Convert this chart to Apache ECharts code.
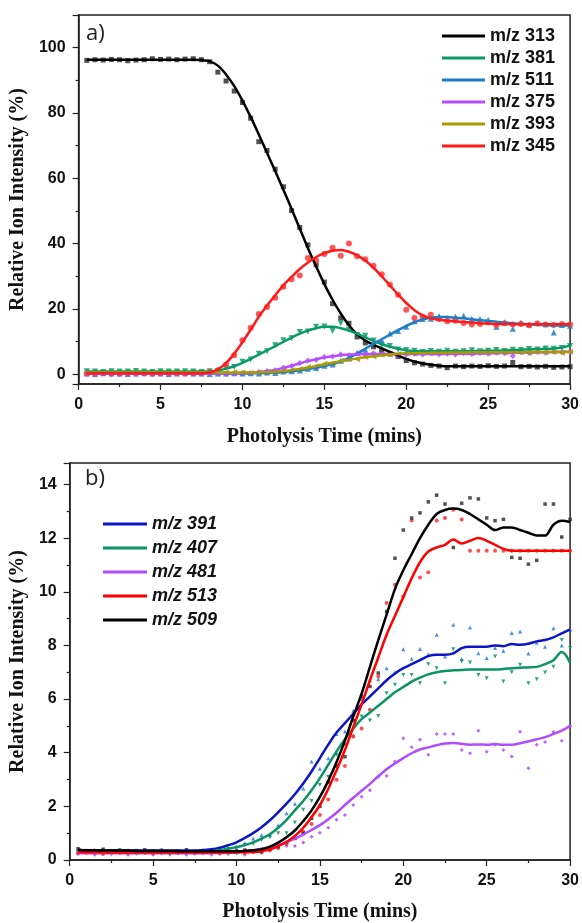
<!DOCTYPE html>
<html>
<head>
<meta charset="utf-8">
<script src="https://cdn.jsdelivr.net/npm/echarts@6/dist/echarts.min.js"></script>
<style>
html,body{margin:0;padding:0;background:#fff;}
#chart{width:582px;height:923px;}
</style>
</head>
<body>
<div id="chart"></div>
<script>
// Time axis (mins)
const T = [0.5,1,1.5,2,2.5,3,3.5,4,4.5,5,5.5,6,6.5,7,7.5,8,8.5,9,9.5,10,10.5,11,11.5,12,12.5,13,13.5,14,14.5,15,15.5,16,16.5,17,17.5,18,18.5,19,19.5,20,20.5,21,21.5,22,22.5,23,23.5,24,24.5,25,25.5,26,26.5,27,27.5,28,28.5,29,29.5,30];

// ---------- Panel a: fitted lines ----------
const a313 = [96.3,96.3,96.3,96.3,96.3,96.3,96.3,96.3,96.3,96.3,96.3,96.3,96.3,96.3,
  96.2,95.8,94.5,91.8,88.2,83.8,78.8,73.4,67.8,62.2,56.5,50.6,44.6,38.6,33,27.6,22.8,18.6,15,12.2,10.3,9.0,7.9,6.8,5.7,4.7,3.9,3.3,2.9,2.6,2.4,
  2.4,2.4,2.4,2.4,2.4,2.4,2.4,2.4,2.4,2.4,2.4,2.4,2.4,2.4,2.4];
const a345 = [0.3,0.3,0.3,0.3,0.3,0.3,0.3,0.3,0.3,0.3,0.3,0.3,0.3,0.3,0.3,
  0.5,1.5,3.4,6.3,9.8,13.6,17.6,21,24.2,27.2,29.8,32.2,34.2,35.9,37.1,37.8,38,37.5,36.4,34.8,32.6,30,27.2,24.4,21.8,19.6,18,17.1,16.7,16.4,
  16.2,16,15.8,15.6,15.5,15.4,15.4,15.3,15.3,15.3,15.3,15.3,15.3,15.3,15.3];
const a381 = [0.8,0.8,0.8,0.8,0.8,0.8,0.8,0.8,0.8,0.8,0.8,0.8,0.8,0.8,0.8,0.8,
  1.1,1.7,2.5,3.5,4.7,6,7.3,8.6,9.9,11.2,12.4,13.4,14.1,14.5,14.5,14.1,13.4,12.4,11.3,10.2,9.2,8.4,7.8,7.3,
  7.1,7.0,7.0,7.0,7.0,7.0,7.0,7.1,7.1,7.2,7.2,7.3,7.4,7.5,7.6,7.7,7.8,7.9,8.2,8.8];
const a511 = [0.2,0.2,0.2,0.2,0.2,0.2,0.2,0.2,0.2,0.2,0.2,0.2,0.2,0.2,0.2,0.2,0.2,0.2,0.2,0.2,
  0.25,0.3,0.4,0.5,0.7,0.9,1.2,1.6,2.0,2.5,3.1,3.9,5.0,6.3,7.8,9.3,10.7,12.1,13.5,14.8,
  15.9,16.8,17.3,17.5,17.5,17.3,17.1,16.8,16.6,16.3,16.1,15.8,15.6,15.4,15.3,15.1,15.0,14.9,14.9,14.9];
const a375 = [0.2,0.2,0.2,0.2,0.2,0.2,0.2,0.2,0.2,0.2,0.2,0.2,0.2,0.2,0.2,0.2,0.2,0.2,0.2,
  0.3,0.4,0.6,0.9,1.3,1.9,2.6,3.3,4.0,4.6,5.1,5.5,5.8,6.0,6.1,6.2,6.2,6.2,6.2,6.2,
  6.2,6.2,6.2,6.2,6.2,6.25,6.25,6.3,6.3,6.35,6.4,6.45,6.5,6.55,6.6,6.65,6.7,6.75,6.8,6.85,6.9];
const a393 = [0.5,0.5,0.5,0.5,0.5,0.5,0.5,0.5,0.5,0.5,0.5,0.5,0.5,0.5,0.5,0.5,0.5,0.5,0.5,0.5,0.5,
  0.55,0.6,0.75,0.95,1.25,1.6,2.0,2.5,3.0,3.5,4.0,4.45,4.85,5.2,5.5,5.8,6.05,6.25,6.4,6.45,
  6.5,6.55,6.6,6.6,6.65,6.65,6.7,6.7,6.7,6.7,6.7,6.75,6.75,6.75,6.8,6.8,6.8,6.8,6.8];

// ---------- Panel a: measured points ----------
const p313 = [96.1,96.3,96.2,96.4,96.3,96.0,96.2,96.3,96.6,96.4,96.5,96.3,96.5,96.6,
  96.3,95.7,92.5,89.8,86.7,83.2,78.4,71.2,68.5,62.8,57.4,50.1,44.9,39.6,33.5,28.2,21.6,17.2,15.6,11.4,9.6,8.4,7.3,6.2,5.4,4.2,3.5,3.1,2.7,2.5,2.0,
  2.5,2.3,2.5,2.4,2.6,2.4,2.5,3.6,2.3,2.4,2.2,2.4,2.1,2.2,2.3];
const p345 = [0.3,0.2,0.4,0.3,0.2,0.3,0.4,0.3,0.2,0.3,0.3,0.4,0.2,0.3,0.4,
  0.6,1.2,3.0,5.8,10.4,14.2,18.4,20.6,23.4,26.8,29.1,30.2,35.6,34.8,36.8,38.7,36.3,40,36.1,35.2,33.2,30.6,27.5,24.3,19.7,17.2,17.6,18.2,16.9,16.2,
  16.4,15.7,15.2,15.4,15.8,15.1,15.6,15.2,15.4,15.0,15.5,15.2,15.1,15.4,15.2];
const p381 = [0.9,0.8,0.7,0.9,0.8,0.8,1.0,0.8,0.7,0.9,0.8,0.8,0.9,0.8,0.7,0.9,
  1.0,1.9,2.2,3.8,4.5,6.3,7.0,8.9,10.4,11.0,12.9,13.1,14.5,14.6,13.2,15.6,13.6,12.0,11.8,10.3,8.8,8.6,7.6,7.4,
  7.2,6.8,7.1,6.9,7.2,6.9,7.0,7.3,7.0,7.2,7.4,7.1,7.5,7.4,7.7,7.6,7.9,7.8,8.0,8.6];
const p511 = [0.2,0.1,0.3,0.2,0.2,0.1,0.2,0.3,0.2,0.2,0.1,0.2,0.3,0.2,0.2,0.1,0.2,0.2,0.3,0.2,
  0.3,0.2,0.5,0.4,0.8,0.9,1.1,1.7,1.9,2.6,3.0,4.1,4.8,6.5,7.5,9.6,10.4,12.5,13.2,14.5,
  16.2,16.9,17.0,17.8,17.2,17.6,17.9,17.0,16.9,16.7,14.5,15.9,13.9,15.8,15.2,15.7,15.3,12.8,15.1,14.8];
const p375 = [0.1,0.2,0.3,0.1,0.2,0.2,0.1,0.3,0.2,0.2,0.1,0.2,0.2,0.3,0.1,0.2,0.2,0.1,0.3,
  0.4,0.3,0.7,1.0,1.2,2.0,2.5,3.4,4.2,4.4,5.3,5.4,6.0,5.8,6.3,6.0,6.4,6.1,6.3,5.6,
  6.0,6.3,6.0,6.4,6.1,6.3,6.0,6.4,6.2,6.5,6.3,6.6,6.4,5.6,6.7,6.5,6.8,6.6,6.9,6.7,6.9];
const p393 = [0.4,0.5,0.6,0.5,0.4,0.5,0.6,0.5,0.4,0.5,0.5,0.6,0.4,0.5,0.5,0.6,0.4,0.5,0.6,0.5,0.4,
  0.5,0.7,0.6,1.0,1.2,1.5,2.2,2.4,3.2,3.3,4.1,4.8,4.6,5.3,5.4,6.0,6.2,6.1,6.5,6.3,
  6.6,6.4,6.7,6.5,6.8,6.6,6.5,6.9,6.6,6.8,6.6,6.9,6.7,6.5,6.9,6.7,6.8,6.6,6.9];

// ---------- Panel b: fitted lines ----------
const b391 = [0.38,0.36,0.36,0.35,0.35,0.35,0.35,0.35,0.35,0.35,0.35,0.35,0.35,0.35,0.35,
  0.37,0.4,0.46,0.55,0.66,0.82,1.0,1.22,1.48,1.78,2.1,2.45,2.85,3.3,3.8,4.3,4.75,5.1,5.45,5.8,
  6.1,6.4,6.7,6.95,7.15,7.3,7.45,7.6,7.65,7.65,7.7,7.9,7.95,7.95,7.95,8.0,7.97,8.05,8.02,8.06,8.15,8.2,8.3,8.45,8.6];
const b407 = [0.32,0.31,0.3,0.3,0.3,0.3,0.3,0.3,0.3,0.3,0.3,0.3,0.3,0.3,0.3,0.3,
  0.32,0.36,0.42,0.48,0.56,0.66,0.8,0.96,1.2,1.5,1.85,2.2,2.6,3.05,3.55,4.05,4.5,4.9,5.25,5.5,
  5.75,6.0,6.25,6.45,6.65,6.8,6.92,7.0,7.05,7.07,7.08,7.1,7.1,7.1,7.1,7.12,7.15,7.17,7.18,7.2,7.3,7.45,7.75,7.35];
const b481 = [0.26,0.25,0.25,0.25,0.25,0.25,0.25,0.25,0.25,0.25,0.25,0.25,0.25,0.25,0.25,0.25,0.26,0.26,0.27,0.28,
  0.32,0.36,0.42,0.48,0.56,0.66,0.8,0.95,1.12,1.3,1.52,1.76,2.05,2.32,2.58,2.84,3.12,3.38,3.6,3.8,
  3.98,4.12,4.2,4.28,4.34,4.36,4.33,4.3,4.31,4.3,4.32,4.3,4.3,4.35,4.42,4.5,4.58,4.7,4.82,5.0];
const b513 = [0.3,0.29,0.29,0.28,0.28,0.28,0.28,0.28,0.28,0.28,0.28,0.28,0.28,0.28,0.28,0.28,0.28,0.28,0.28,0.28,
  0.29,0.3,0.33,0.4,0.52,0.68,0.9,1.2,1.6,2.05,2.65,3.35,4.1,4.95,5.8,6.7,7.55,8.4,9.1,9.8,
  10.5,11.1,11.5,11.65,11.75,11.95,11.8,11.9,12.0,11.9,11.75,11.6,11.53,11.53,11.53,11.53,11.53,11.53,11.53,11.53];
const b509 = [0.38,0.36,0.36,0.35,0.35,0.35,0.35,0.34,0.34,0.34,0.34,0.34,0.33,0.33,0.33,0.33,0.33,0.33,0.33,
  0.33,0.34,0.36,0.4,0.5,0.65,0.85,1.1,1.45,1.85,2.35,2.95,3.65,4.45,5.35,6.2,7.2,8.2,9.15,10.1,
  10.8,11.4,12.0,12.5,12.9,13.05,13.1,13.05,12.9,12.7,12.5,12.3,12.4,12.4,12.3,12.2,12.1,12.1,12.5,12.65,12.6];

// ---------- Panel b: measured points ----------
const q391 = [0.35,0.3,0.38,0.32,0.35,0.3,0.36,0.33,0.3,0.35,0.38,0.32,0.3,0.36,0.34,0.3,0.38,0.4,0.45,0.5,0.62,
  0.8,0.93,0.93,1.3,1.74,2.1,2.67,3.67,3.4,3.79,4.7,4.79,5.56,6.0,6.7,6.74,7.15,7.0,7.86,7.5,
  7.87,7.67,8.4,7.59,8.77,7.49,8.67,7.71,7.53,7.9,7.8,8.46,8.52,7.7,8.1,7.95,8.64,8.0,8.6];
const q407 = [0.3,0.28,0.32,0.3,0.27,0.3,0.33,0.28,0.3,0.26,0.3,0.2,0.3,0.28,0.3,0.32,0.3,0.35,0.4,0.45,0.55,0.6,
  0.75,0.85,1.0,1.0,1.4,1.87,2.2,2.8,3.1,3.92,4.3,4.6,5.35,5.2,5.37,6.22,6.53,6.9,6.9,6.59,
  7.3,7.15,6.59,7.86,7.4,7.36,6.9,6.78,7.59,6.65,7.0,7.28,6.59,6.74,6.99,7.2,8.2,7.9];
const q481 = [0.22,0.25,0.2,0.24,0.22,0.26,0.2,0.23,0.25,0.2,0.24,0.22,0.25,0.2,0.23,0.26,0.2,0.24,0.22,0.25,0.2,0.3,0.35,0.4,
  0.45,0.52,0.52,0.65,0.87,1.02,1.2,1.5,1.68,2.05,2.36,2.6,3.1,3.13,3.67,4.54,4.2,4.48,3.92,4.7,
  4.7,4.7,4.1,3.98,4.82,4.04,4.3,4.1,3.86,4.78,3.42,4.3,4.4,4.77,4.45,5.0];
const q513 = [0.25,0.3,0.28,0.22,0.3,0.27,0.25,0.3,0.28,0.24,0.3,0.26,0.28,0.3,0.25,0.27,0.3,0.24,0.28,0.3,0.26,0.3,0.28,0.35,
  0.45,0.6,0.8,1.05,1.34,1.68,2.26,2.99,3.5,4.6,4.9,5.6,6.84,9.58,10.26,9.83,12.66,10.53,10.73,12.66,
  12.75,13.06,12.69,11.53,11.53,11.53,11.53,11.53,11.53,11.53,11.53,11.53,11.53,11.53,11.53,11.53];
const q509 = [0.42,0.35,0.3,0.4,0.33,0.37,0.3,0.35,0.38,0.32,0.36,0.3,0.34,0.38,0.31,0.35,0.33,0.36,0.3,0.34,0.37,0.33,0.32,0.41,
  0.5,0.65,0.81,1.0,1.55,2.0,2.9,3.5,3.85,5.2,6.1,6.47,6.97,9.26,11.25,12.3,12.75,12.94,13.35,13.6,
  13.27,11.65,13.3,13.5,13.46,12.75,12.65,12.7,11.28,11.25,11.03,11.17,13.27,13.27,12.04,12.7];

// Legend names
const namesA = ['m/z 313','m/z 381','m/z 511','m/z 375','m/z 393','m/z 345'];
const namesB = ['m/z 391','m/z 407','m/z 481','m/z 513','m/z 509'];

const pairs = vals => T.map((t, i) => [t, vals[i]]);

const chart = echarts.init(document.getElementById('chart'), null, {renderer: 'canvas'});

const AX = '#222';
const tickFont = {fontFamily: 'Liberation Sans, Arial, sans-serif', fontWeight: 'bold', fontSize: 16, color: '#111'};
const titleFont = {fontFamily: 'Liberation Serif, Times New Roman, serif', fontWeight: 'bold', fontSize: 20, color: '#111'};

function xAx(grid, gap) {
  return {
    type: 'value', gridIndex: grid, min: 0, max: 30, interval: 5,
    name: 'Photolysis Time (mins)', nameLocation: 'middle', nameGap: gap, nameTextStyle: titleFont,
    axisLine: {show: true, onZero: false, lineStyle: {color: AX, width: 1.5}},
    axisTick: {show: true, inside: false, length: 6, lineStyle: {color: AX, width: 1.2}},
    minorTick: {show: true, splitNumber: 2, length: 3, lineStyle: {color: AX, width: 1.2}},
    splitLine: {show: false},
    axisLabel: Object.assign({margin: 13}, tickFont)
  };
}
function yAx(grid, min, max, split, gap) {
  return {
    type: 'value', gridIndex: grid, min: min, max: max, splitNumber: split,
    name: 'Relative Ion Intensity (%)', nameLocation: 'middle', nameGap: gap, nameRotate: 90, nameTextStyle: titleFont,
    axisLine: {show: true, onZero: false, lineStyle: {color: AX, width: 1.5}},
    axisTick: {show: true, inside: false, length: 6, lineStyle: {color: AX, width: 1.2}},
    minorTick: {show: true, splitNumber: 2, length: 3, lineStyle: {color: AX, width: 1.2}},
    splitLine: {show: false},
    axisLabel: Object.assign({margin: 13, showMinLabel: min === 0, showMaxLabel: false}, tickFont)
  };
}

function lineS(name, data, color, gi, width) {
  return {
    type: 'line', name: name, xAxisIndex: gi, yAxisIndex: gi, data: pairs(data),
    smooth: 0.35, showSymbol: false, symbol: 'none', z: 3,
    lineStyle: {color: color, width: width}, itemStyle: {color: color}
  };
}
function ptsS(name, data, color, gi, symbol, size, rot) {
  return {
    type: 'scatter', name: name + ' data', xAxisIndex: gi, yAxisIndex: gi, data: pairs(data),
    symbol: symbol, symbolSize: size, symbolRotate: rot || 0, z: 2,
    itemStyle: {color: color, opacity: 0.85}
  };
}

const cA = {k: '#000000', g: '#0a9a68', b: '#1c7cc6', p: '#b44cff', o: '#a89a00', r: '#ff1a1a'};
const cB = {b: '#0a16c8', g: '#0a9466', p: '#b04cff', r: '#ff0000', k: '#000000'};

const option = {
  animation: false,
  backgroundColor: '#ffffff',
  grid: [
    {left: 77, top: 15, width: 496, height: 369, show: true, borderColor: AX, borderWidth: 1.5, backgroundColor: 'transparent'},
    {left: 69, top: 463, width: 504, height: 397, show: true, borderColor: AX, borderWidth: 1.5, backgroundColor: 'transparent'}
  ],
  xAxis: [xAx(0, 43), xAx(1, 42)],
  yAxis: [yAx(0, -3, 110, 5, 45), yAx(1, 0, 14.8, 7, 38)],
  legend: [
    {
      left: 437, top: 22, orient: 'vertical', icon: 'rect', itemWidth: 43, itemHeight: 3, itemGap: 4,
      data: namesA,
      textStyle: {fontFamily: 'Liberation Sans, Arial, sans-serif', fontWeight: 'bold', fontSize: 18, color: '#111', lineHeight: 18}
    },
    {
      left: 98, top: 510, orient: 'vertical', icon: 'rect', itemWidth: 44, itemHeight: 3, itemGap: 6,
      data: namesB,
      textStyle: {fontFamily: 'Liberation Sans, Arial, sans-serif', fontWeight: 'bold', fontStyle: 'italic', fontSize: 18, color: '#111', lineHeight: 18}
    }
  ],
  graphic: [
    {type: 'text', left: 86, top: 23, style: {text: 'a)', font: '22px "Open Sans", sans-serif', fill: '#222'}},
    {type: 'text', left: 85, top: 468, style: {text: 'b)', font: '22px "Open Sans", sans-serif', fill: '#222'}}
  ],
  series: [
    ptsS('m/z 313', p313, '#333', 0, 'rect', 5),
    ptsS('m/z 381', p381, cA.g, 0, 'triangle', 6, 180),
    ptsS('m/z 511', p511, cA.b, 0, 'triangle', 6),
    ptsS('m/z 375', p375, cA.p, 0, 'diamond', 6),
    ptsS('m/z 393', p393, cA.o, 0, 'triangle', 6, 90),
    ptsS('m/z 345', p345, '#ff3a3a', 0, 'circle', 6),
    lineS('m/z 313', a313, cA.k, 0, 2.5),
    lineS('m/z 381', a381, cA.g, 0, 2.5),
    lineS('m/z 511', a511, cA.b, 0, 2.5),
    lineS('m/z 375', a375, cA.p, 0, 2.5),
    lineS('m/z 393', a393, cA.o, 0, 2.5),
    lineS('m/z 345', a345, cA.r, 0, 2.5),

    ptsS('m/z 391', q391, '#2a7be0', 1, 'triangle', 4),
    ptsS('m/z 407', q407, cB.g, 1, 'triangle', 4, 180),
    ptsS('m/z 481', q481, cB.p, 1, 'diamond', 4),
    ptsS('m/z 513', q513, '#ff3030', 1, 'circle', 4),
    ptsS('m/z 509', q509, '#333', 1, 'rect', 3.5),
    lineS('m/z 391', b391, cB.b, 1, 2.5),
    lineS('m/z 407', b407, cB.g, 1, 2.5),
    lineS('m/z 481', b481, cB.p, 1, 2.5),
    lineS('m/z 513', b513, cB.r, 1, 2.5),
    lineS('m/z 509', b509, cB.k, 1, 2.5)
  ]
};
chart.setOption(option);
</script>
</body>
</html>
